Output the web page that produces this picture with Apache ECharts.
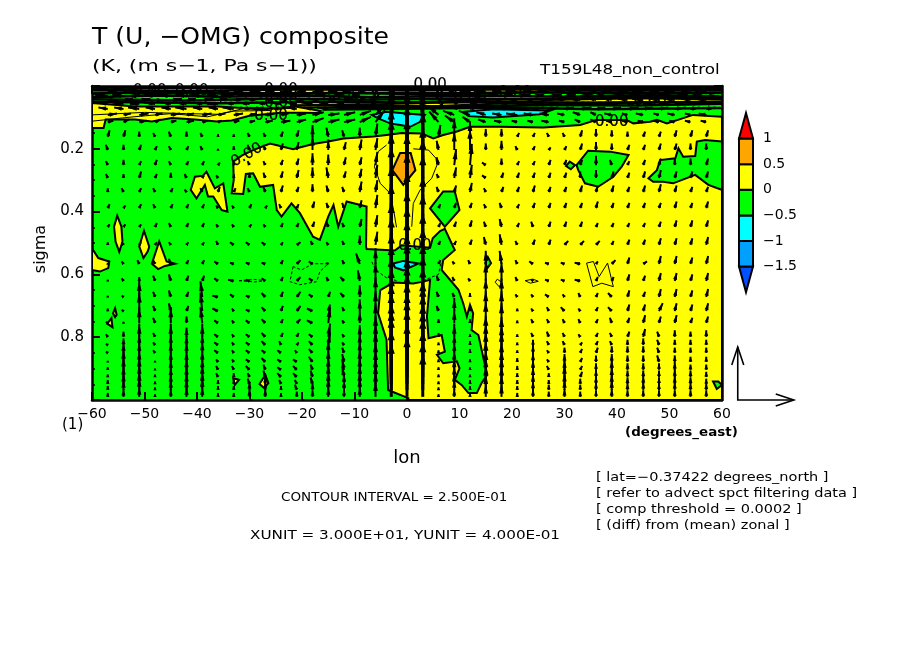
<!DOCTYPE html>
<html>
<head>
<meta charset="utf-8">
<style>html,body{margin:0;padding:0;background:#fff}#main{width:904px;height:654px}</style>
<script src="https://cdn.jsdelivr.net/npm/echarts@6/dist/echarts.min.js"></script>
</head>
<body>
<div id="main"></div>
<script>
// colour bands, low to high
var bandLevels = [-2, -1.5, -1, -0.5, 0, 0.5, 1, 1.5];
var bandColors = ['#0050ff', '#00a0ff', '#00ffff', '#00ff00', '#ffff00', '#ffa500', '#ff0000'];

// zero contour: [lon, sigma]
var yellowMain = [[-33.1,.241],[-31.5,.222],[-29.3,.204],[-26.1,.183],[-21.7,.201],[-17.9,.185],[-15,.177],[-12.1,.167],[-6.4,.161],[-3.9,.156],[-1,.15],[2.8,.151],[5,.167],[6.9,.156],[9.5,.145],[12,.13],[17.7,.13],[26,.132],[33,.124],[36.1,.108],[41.8,.108],[43.1,.119],[46.3,.114],[47.6,.108],[49.5,.119],[54.5,.092],[60,.098],[60,1],[.25,1],[.25,.994],[-3.6,.968],[-3.9,.808],[-5.5,.724],[-5.1,.65],[-2.6,.626],[1.2,.629],[3.1,.623],[4.4,.617],[3.8,.734],[4.1,.803],[6.6,.793],[7.2,.846],[5.7,.856],[6.9,.883],[9.5,.877],[10,.899],[9.1,.936],[10.4,.952],[11.7,.978],[13.3,.978],[14.2,.946],[15.3,.92],[14.5,.862],[13.6,.793],[12.3,.777],[12.6,.724],[12,.697],[11.4,.734],[10.7,.692],[9.8,.649],[6.6,.586],[6.9,.554],[9.1,.522],[8.8,.512],[7.2,.455],[6.3,.462],[4.9,.485],[4.4,.515],[-1,.507],[-2.3,.524],[-7.7,.519],[-7.8,.512],[-7.7,.384],[-11.5,.368],[-13.1,.448],[-14,.379],[-15,.416],[-16.6,.49],[-17.9,.48],[-20.4,.405],[-22,.374],[-23.9,.416],[-24.8,.395],[-25.5,.315],[-28,.321],[-29.3,.278],[-30.7,.28],[-31.2,.344],[-33.4,.342],[-33,.299]];
var yellowBandLeft = [[-60,.054],[-51.8,.065],[-42.3,.065],[-36,.065],[-31.5,.07],[-27.7,.075],[-21.3,.065],[-18,.075],[-16.5,.08],[-17,.086],[-20,.085],[-24,.085],[-27,.09],[-30,.095],[-33.4,.11],[-36.2,.113],[-40.4,.107],[-44.8,.102],[-48.6,.113],[-51.8,.107],[-57.4,.107],[-57.8,.134],[-60,.134]];
var yellowBandTop = [[-52,.006],[60,.006],[60,.02],[30,.02],[0,.022],[-30,.022],[-52,.024]];
var yellowBandMid = [[-22,.05],[-10,.05],[0,.052],[20,.042],[40,.038],[60,.036],[60,.05],[40,.052],[20,.054],[0,.068],[-10,.066],[-22,.07]];
var yellowBlobA = [[-41.2,.331],[-40.4,.289],[-38.9,.286],[-38.2,.273],[-36.6,.326],[-35,.31],[-34.2,.4],[-35.3,.395],[-36.9,.352],[-37.9,.352],[-38.5,.315],[-40.1,.358]];
var yellowBlobB = [[-55.2,.413],[-54.4,.448],[-54.2,.496],[-54.8,.528],[-55.5,.496],[-55.8,.448]];
var yellowBlobC = [[-50.1,.461],[-49.1,.512],[-49.4,.527],[-50.2,.548],[-51,.511]];
var yellowBlobD = [[-47.2,.495],[-45.8,.559],[-44.2,.566],[-46.1,.573],[-47.4,.583],[-48.6,.566]];
var yellowBlobE = [[-60,.517],[-58.8,.548],[-56.7,.559],[-56.9,.58],[-58.5,.591],[-60,.586]];
var yellowBlobF = [[-55.6,.708],[-55.3,.729],[-55.6,.736],[-56,.724]];
var yellowBlobG = [[-56.3,.739],[-56.1,.768],[-57.1,.757]];
var yellowBlobH = [[-33.1,.931],[-32,.936],[-32.8,.952]];
var yellowBlobI = [[-27,.92],[-26.4,.946],[-27.2,.962],[-28.1,.949]];
var yellowLoops = [yellowBandTop, yellowBandMid, yellowBandLeft, yellowMain, yellowBlobA, yellowBlobB, yellowBlobC, yellowBlobD, yellowBlobE, yellowBlobF, yellowBlobG, yellowBlobH, yellowBlobI];

var greenBlobA = [[4.4,.39],[6.9,.336],[9.1,.336],[10,.395],[7.2,.448]];
var greenBlobB = [[32.3,.252],[34.5,.206],[38.7,.209],[42.2,.22],[40.9,.257],[39.3,.289],[36.4,.321],[33.9,.31],[32.6,.267]];
var greenBlobC = [[31,.241],[32,.252],[31.2,.265],[30.3,.255]];
var greenBlobD = [[46,.294],[47.6,.268],[48.2,.236],[51.1,.23],[51.7,.198],[52.6,.225],[54.9,.223],[55.2,.177],[56.8,.172],[60,.177],[60,.331],[57.4,.315],[54.9,.283],[50.7,.31],[48.8,.305],[46.9,.305]];
var greenBlobE = [[14.9,.564],[15.4,.545],[16,.564],[15.3,.58]];
var greenBlobF = [[58.3,.941],[59.3,.941],[60,.952],[59,.965]];
var greenBlobG = [[-60,.01],[-52,.012],[-50,.02],[-60,.024]];
var greenLoops = [greenBlobA, greenBlobB, greenBlobC, greenBlobD, greenBlobE, greenBlobF, greenBlobG];

var cyanUpper = [[-6.7,.092],[-3.9,.082],[-.7,.087],[3.4,.092],[2.5,.114],[.6,.13],[-1.3,.124],[-3.2,.119],[-5.5,.103]];
var cyanStrip = [[11,.082],[16.4,.074],[26.6,.078],[28.5,.071],[25.3,.09],[16.4,.1],[11.7,.096]];
var cyanLower = [[-2.6,.565],[-.7,.557],[2.2,.565],[-.7,.587],[-2.3,.578]];
var cyanLoops = [cyanUpper, cyanStrip, cyanLower];

var orangeLoops = [[[-1.3,.213],[.7,.213],[1.6,.268],[-.7,.315],[-2.8,.268]]];

// thin contours, 0.25 in the yellow and -0.25 in the green
var thinSolid = [
    [[-3.9,.188],[-5.5,.209],[-6.2,.257],[-5.1,.31],[-3.2,.342],[-2.5,.4],[-2,.45]],
    [[1.2,.2],[4.1,.204],[5.5,.23],[5.7,.252],[4.7,.294],[2.5,.331],[1.2,.374],[.9,.448]],
    [[34.2,.564],[35.5,.559],[36.6,.607],[38.2,.564],[39.3,.639],[37.1,.628],[35.4,.639],[34.2,.564]],
    [[22.5,.62],[24,.615],[25,.622],[23.5,.628],[22.5,.62]],
    [[17.2,.615],[18,.625],[17.6,.64],[16.8,.625],[17.2,.615]],
    [[-60,.092],[-50,.084],[-42,.088],[-36,.09],[-30,.068],[-22,.072]],
    [[-60,.112],[-52,.098],[-45,.088],[-38,.098],[-33,.08],[-26,.078]]
];
var thinDashed = [
    [[-21.7,.575],[-22.3,.623],[-20.4,.633],[-17.2,.623],[-16.6,.591],[-15,.566],[-17.9,.566],[-20.1,.586],[-21.7,.575]],
    [[-32,.62],[-29,.624],[-27,.62],[-29,.616],[-32,.62]],
    [[-6.7,.56],[-6,.585],[-4,.61],[-2,.62]],
    [[3,.62],[6,.6],[6.5,.56]]
];
// the heavy stack of contours under the top of the frame
var topStack = [
    [[-60,.005],[-30,.007],[0,.005],[30,.007],[60,.005]],
    [[-60,.013],[-40,.016],[-20,.01],[0,.014],[20,.01],[40,.014],[60,.012]],
    [[-60,.024],[-45,.02],[-30,.026],[-12,.022],[6,.026],[24,.02],[42,.024],[60,.022]],
    [[-60,.036],[-48,.03],[-36,.034],[-21,.03],[-6,.036],[12,.03],[30,.034],[48,.03],[60,.034]],
    [[-60,.042],[-42,.046],[-24,.04],[-9,.044],[9,.04],[27,.044],[45,.038],[60,.042]],
    [[-60,.05],[-36,.055],[-18,.05],[0,.054],[18,.05],[36,.054],[60,.05]],
    [[-22,.062],[-8,.06],[8,.066],[26,.06],[44,.062],[60,.056]],
    [[-16,.075],[0,.072],[18,.068],[36,.074],[60,.07]]
];

// contour labels: lon, sigma, angle
var labelLons = [-25.9, -24, -24, 4.4, 39, 46.3, 20.6, 1.5, -30.5, -49, -41, -12, 12];
var labelSigmas = [.096, .054, .013, -.003, .115, .048, .022, .51, .22, .016, .016, .03, .035];
var labelAngles = [0, 0, 0, 0, 0, 0, 0, 0, 30, 0, 0, 0, 0];

// vectors: u in m/s, -omega in hundredths of Pa/s
var vectorLons = [-57,-54,-51,-48,-45,-42,-39,-36,-33,-30,-27,-24,-21,-18,-15,-12,-9,-6,-3,0,3,6,9,12,15,18,21,24,27,30,33,36,39,42,45,48,51,54,57];
var vectorSigmas = [.006,.019,.032,.045,.057,.073,.092,.115,.162,.204,.252,.293,.338,.389,.449,.506,.567,.621,.672,.717,.755,.799,.825,.85,.879,.904,.927,.949,.968,.99];
var wRows = [
    [0,0,0,0,1,0,0,0,1,0,0,0,0,1,0,0,1,3,8,9,7,2,0,0,0,0,0,0,0,0,0,1,1,0,0,0,1,0,0],
    [1,0,1,1,1,1,1,1,1,1,0,1,1,1,1,1,1,4,14,18,12,3,1,1,1,1,1,1,1,1,1,2,1,1,1,1,1,1,1],
    [1,1,0,1,1,1,1,1,1,1,1,1,1,1,1,1,1,5,18,24,16,4,1,1,2,1,1,1,1,1,2,3,2,1,1,1,1,1,0],
    [0,1,1,0,1,1,1,1,1,1,1,1,1,1,1,1,2,5,22,30,20,5,1,1,2,1,1,1,1,1,1,2,2,1,1,1,1,1,1],
    [1,1,0,1,1,1,1,0,1,1,1,1,1,1,1,1,2,6,26,34,24,6,2,1,1,1,1,1,1,1,1,1,1,1,1,1,1,1,1],
    [1,1,1,1,1,1,1,1,1,1,1,1,1,1,1,2,2,8,30,40,28,6,2,2,1,1,1,1,1,1,1,1,1,1,1,1,1,1,1],
    [1,1,1,1,1,1,1,1,1,1,1,1,1,2,1,2,3,8,34,46,32,7,3,3,2,1,1,1,1,1,2,2,1,1,1,1,1,1,1],
    [1,2,1,2,1,1,1,1,1,1,1,1,2,3,2,2,4,9,38,52,36,8,5,4,2,1,1,1,1,1,2,2,1,1,1,1,1,1,1],
    [5,5,4,3,4,4,3,2,2,3,3,4,5,9,7,5,7,10,42,56,40,9,14,12,6,6,3,3,3,3,5,6,5,4,4,4,5,5,5],
    [4,4,4,3,3,3,3,1,3,4,4,5,6,11,8,6,8,9,44,58,42,7,14,16,5,7,3,3,2,3,5,6,5,4,4,5,5,5,5],
    [3,4,3,4,3,3,3,2,2,3,3,4,5,9,8,6,6,10,42,55,40,6,12,16,2,5,3,3,4,4,4,7,4,3,4,5,5,5,5],
    [3,3,5,3,4,3,2,2,3,4,4,5,6,8,8,5,7,10,44,55,38,3,8,10,2,4,4,4,4,4,5,6,5,4,5,6,5,5,5],
    [3,3,3,3,3,2,3,4,3,3,4,5,4,6,5,4,8,9,44,55,40,4,5,7,3,4,4,5,4,4,5,5,5,4,5,6,5,4,4],
    [3,2,3,3,3,3,3,2,2,3,2,3,3,5,4,4,6,10,46,56,40,3,4,4,3,4,3,4,4,4,4,5,4,4,4,4,5,4,5],
    [2,2,2,3,3,3,3,2,2,2,2,3,3,4,4,3,6,9,46,56,38,3,4,5,4,6,3,4,4,4,4,3,3,3,3,4,5,5,5],
    [2,2,2,2,2,2,2,3,2,2,2,2,2,3,2,3,7,10,46,55,38,3,3,4,6,8,3,4,4,3,3,3,3,4,4,5,5,5,6],
    [1,2,3,3,4,3,3,2,1,1,1,3,3,2,1,3,8,12,46,55,38,3,2,3,10,10,3,2,1,1,1,2,3,5,2,6,6,5,6],
    [1,2,3,4,5,4,4,2,1,1,2,3,3,2,3,3,8,14,48,56,40,4,3,2,14,14,3,1,1,1,1,3,3,5,4,6,6,5,6],
    [1,1,12,4,5,4,12,1,2,1,3,4,4,2,4,3,9,15,48,58,40,4,3,3,14,14,2,2,2,2,3,3,3,5,4,6,6,5,6],
    [2,1,14,4,6,4,14,2,2,1,3,4,4,2,5,3,9,15,50,58,42,4,10,3,15,15,2,2,3,3,2,3,3,5,5,6,6,5,6],
    [1,1,12,4,12,5,12,2,2,2,3,3,3,2,12,2,9,15,50,60,42,3,10,3,16,15,2,3,3,3,3,3,4,4,6,5,6,4,5],
    [2,4,10,3,10,7,10,2,2,2,3,3,3,2,10,2,9,16,52,60,42,3,10,2,16,15,2,3,4,3,2,3,3,4,6,4,5,4,5],
    [1,5,8,2,8,7,8,2,2,2,3,3,2,3,9,2,9,16,52,60,44,2,8,3,16,15,2,4,3,3,2,3,3,4,5,4,4,4,4],
    [1,8,8,2,8,8,9,2,2,2,2,2,2,3,10,4,9,16,52,60,44,2,8,3,16,16,2,6,2,4,3,4,5,5,5,4,4,4,4],
    [1,10,9,1,8,8,9,2,2,2,3,2,2,4,10,6,10,15,52,60,44,2,9,2,16,15,3,7,2,6,3,5,6,5,5,5,5,4,4],
    [2,10,10,1,8,9,9,3,3,3,4,2,3,4,10,8,10,15,50,58,44,2,9,2,15,15,3,8,3,8,3,5,8,5,5,5,6,4,4],
    [2,9,10,2,8,9,10,3,3,3,5,3,3,5,10,8,10,15,50,58,44,2,9,2,15,15,3,8,3,10,4,6,8,5,5,5,6,5,4],
    [3,9,10,2,8,9,10,3,3,4,6,3,3,5,10,8,10,15,50,56,40,2,9,3,14,14,3,8,3,9,4,6,8,5,6,5,6,5,4],
    [3,8,10,2,8,9,10,3,3,6,6,3,4,5,10,8,10,14,45,50,36,2,8,3,12,12,3,7,4,8,4,6,8,5,6,5,6,5,5],
    [3,6,8,2,6,8,8,3,3,6,6,3,4,5,8,6,8,12,40,45,32,2,6,3,10,10,3,6,4,6,4,5,6,5,5,5,5,5,5]
];
var uRows = [
    [-6,-5,-6,-5,-6,-5,-6,-5,-6,-5,-6,-5,-6,-5,-6,-5,-4,-3,-1,0,1,3,4,5,6,5,6,5,6,5,6,5,6,5,6,5,6,5,6],
    [5,6,5,6,5,6,5,6,5,6,5,6,5,6,5,4,3,2,1,0,-1,-2,-3,-5,-6,-5,-6,-5,-6,-5,-6,-5,-6,-5,-6,-5,-6,-5,-6],
    [-7,-6,-7,-6,-7,-6,-7,-6,-7,-6,-7,-6,-7,-6,-7,-5,-4,-2,0,0,0,2,4,5,7,6,7,6,7,6,7,6,7,6,7,6,7,6,7],
    [6,5,6,5,6,5,6,5,6,5,6,5,6,5,6,5,3,2,1,0,-1,-2,-3,-5,-6,-5,-6,-5,-6,-5,-6,-5,-6,-5,-6,-5,-6,-5,-6],
    [-5,-6,-5,-6,-5,-6,-5,-6,-5,-6,-5,-6,-5,-6,-5,-4,-3,-2,0,0,0,2,3,4,5,6,5,6,5,6,5,6,5,6,5,6,5,6,5],
    [-5,-5,-6,-5,-5,-6,-5,-5,-6,-5,-5,-6,-5,-5,-6,-5,-4,-3,-1,0,1,3,4,5,6,5,5,6,5,5,6,5,5,6,5,5,6,5,5],
    [5,4,5,4,5,4,5,4,5,4,5,4,5,6,6,6,6,5,2,0,-2,-6,-6,-6,-5,-5,-6,-5,-5,-4,-4,-3,-4,-3,-4,-3,-4,-3,-4],
    [3,3,4,3,3,4,3,2,3,3,4,5,5,6,6,6,6,5,2,0,-2,-5,-5,-4,-4,-4,-3,-3,-4,-3,-3,-3,-3,-3,-3,-3,-3,-3,-3],
    [1,1,0,-1,-1,0,-1,0,0,-1,-1,1,1,0,-1,-1,0,1,0,0,0,1,0,0,0,0,1,1,-1,-1,1,0,0,0,1,1,1,1,1],
    [-1,0,1,1,-1,1,-1,0,0,-1,-1,1,1,0,0,1,1,1,0,0,0,-1,0,0,0,0,-1,1,1,1,1,0,0,1,1,1,1,0,0],
    [-1,0,1,1,-1,1,1,1,0,-1,-1,1,1,0,0,1,1,1,0,0,0,-1,1,1,-2,0,1,1,1,1,1,0,-1,1,1,1,0,0,1],
    [-1,0,1,1,0,-1,1,-1,0,0,-1,1,1,0,-1,1,1,1,0,0,0,-1,1,1,-2,1,1,1,1,1,0,0,1,1,1,1,1,1,1],
    [0,-1,1,-1,1,-1,-1,1,1,-1,-1,1,1,0,-1,-1,1,1,0,0,0,-1,1,1,-1,1,1,1,1,1,1,1,1,1,1,1,1,1,1],
    [1,1,1,-1,1,1,1,-1,-1,1,1,-1,1,1,-1,-1,1,1,0,0,0,1,1,1,-1,-1,1,1,1,1,1,1,1,1,1,1,1,1,1],
    [1,1,1,1,-1,1,1,-1,-1,1,-1,1,1,1,-1,-1,1,1,0,0,0,1,1,1,-1,-1,1,-1,1,1,1,1,1,1,1,1,1,1,1],
    [0,-1,1,1,-1,1,1,-1,-2,-2,-2,1,2,-1,-1,-1,0,1,0,0,0,1,1,1,-1,-1,-1,1,1,2,2,2,1,1,1,1,1,1,1],
    [0,-1,-1,-1,-1,1,1,-2,-2,-2,-2,1,2,-2,-1,-1,-2,0,0,0,0,1,-1,-1,0,-1,-1,-2,-2,-2,-3,1,2,1,2,1,1,1,1],
    [0,-1,0,-1,-1,1,1,-2,-3,-2,-2,1,2,-2,-1,-2,-1,0,0,0,0,-1,-1,-1,0,0,-1,-1,-2,-2,-3,1,1,1,1,1,1,1,1],
    [0,-1,0,-1,-1,1,-1,-3,-2,-2,-2,1,2,-2,1,-2,0,0,0,0,0,-1,-1,0,0,0,-1,-1,-2,-1,-1,1,-2,1,1,1,1,1,1],
    [0,-1,0,-1,-1,1,-1,-3,-1,-2,-2,1,2,-3,1,-1,0,0,0,0,0,-1,0,0,0,0,0,-1,-1,-2,-1,1,-2,1,1,2,1,1,1],
    [-1,0,0,-1,0,0,-1,-2,-1,-2,-2,1,2,-3,1,-1,0,0,0,0,0,0,0,0,0,0,0,-1,-1,-1,-1,1,-1,1,1,1,1,1,1],
    [-1,0,0,-1,0,0,0,-2,-1,-2,-2,1,1,-2,1,-1,0,0,0,0,0,0,0,0,0,0,0,-1,-1,-1,-1,1,-1,1,1,-1,0,0,0],
    [-1,0,0,-1,0,0,0,-2,-1,-2,-2,-1,1,-2,1,-1,0,0,0,0,0,0,0,0,0,0,0,0,-1,-1,1,1,-1,0,0,-1,0,0,0],
    [-1,0,0,-1,0,0,0,-2,-1,-2,-2,-2,-1,-2,0,-1,0,0,0,0,0,0,0,0,0,0,0,0,-1,0,1,1,0,0,0,-1,0,0,0],
    [0,0,0,0,0,0,0,-1,-1,-2,-2,-2,-2,-2,0,-1,0,0,0,0,0,0,0,0,0,0,0,0,-1,0,1,0,0,0,0,-1,0,0,0],
    [0,0,0,0,0,0,0,-1,-1,-2,-1,-2,-2,-1,0,-1,0,0,0,0,0,0,0,0,0,0,0,0,-1,0,1,0,0,0,0,0,0,0,0],
    [0,0,0,0,0,0,0,-1,0,-1,-1,-2,-2,-1,0,-1,0,0,0,0,0,0,0,0,0,0,0,0,0,0,1,0,0,0,0,0,0,0,0],
    [0,0,0,0,0,0,0,0,0,-1,0,-1,-1,-1,0,0,0,0,0,0,0,0,0,0,0,0,0,0,0,0,0,0,0,0,0,0,0,0,0],
    [0,0,0,0,0,0,0,0,0,0,0,0,-1,0,0,0,0,0,0,0,0,0,0,0,0,0,0,0,0,0,0,0,0,0,0,0,0,0,0],
    [0,0,0,0,0,0,0,0,0,0,0,0,0,0,0,0,0,0,0,0,0,0,0,0,0,0,0,0,0,0,0,0,0,0,0,0,0,0,0]
];

// reference arrows, XUNIT and YUNIT
var xUnit = 30;
var yUnit = 40;
var xUnitPx = 56;
var yUnitPx = 53;
var refLon = 63;
var refSigma = 1;

var textFont = '"DejaVu Sans"';
var chart = echarts.init(document.getElementById('main'));

function loopSeries(loops, color, z) {
    return {
        type: 'custom', xAxisIndex: 0, yAxisIndex: 0, clip: true, z: z, silent: true,
        data: loops.map(function (l, i) { return [l[0][0], l[0][1], i]; }),
        renderItem: function (params, api) {
            return {
                type: 'polygon',
                shape: {points: loops[params.dataIndex].map(function (p) { return api.coord(p); })},
                style: {fill: color, stroke: '#000', lineWidth: 2}
            };
        }
    };
}

function lineSeries(lines, width, dash, z) {
    return {
        type: 'custom', xAxisIndex: 0, yAxisIndex: 0, clip: true, z: z, silent: true,
        data: lines.map(function (l, i) { return [l[0][0], l[0][1], i]; }),
        renderItem: function (params, api) {
            return {
                type: 'polyline',
                shape: {points: lines[params.dataIndex].map(function (p) { return api.coord(p); })},
                style: {fill: 'none', stroke: '#000', lineWidth: width, lineDash: dash}
            };
        }
    };
}

var vectorData = [];
for (var r = 0; r < vectorSigmas.length; r++) {
    for (var c = 0; c < vectorLons.length; c++) {
        vectorData.push([vectorLons[c], vectorSigmas[r], uRows[r][c], wRows[r][c]]);
    }
}

function renderVector(params, api) {
    var tail = api.coord([api.value(0), api.value(1)]);
    var dx = api.value(2) / xUnit * xUnitPx;
    var dy = -api.value(3) / yUnit * yUnitPx;
    var tip = [tail[0] + dx, tail[1] + dy];
    var len = Math.sqrt(dx * dx + dy * dy) || 1;
    var ux = dx / len, uy = dy / len;
    var headLen = Math.min(10, 1 + len * 0.7);
    var half = Math.min(3.6, 1.6 + len * 0.05);
    var base = [tip[0] - ux * headLen, tip[1] - uy * headLen];
    return {
        type: 'group',
        children: [
            {type: 'line', shape: {x1: tail[0], y1: tail[1], x2: tip[0], y2: tip[1]}, style: {stroke: '#000', lineWidth: len > 25 ? 3 : 2}},
            {type: 'polygon', shape: {points: [tip, [base[0] - uy * half, base[1] + ux * half], [base[0] + uy * half, base[1] - ux * half]]}, style: {fill: '#000'}}
        ]
    };
}

function renderRefArrows(params, api) {
    var o = api.coord([refLon, refSigma]);
    var tx = o[0] + xUnitPx, ty = o[1] - yUnitPx;
    var s = {stroke: '#000', lineWidth: 1.6, fill: 'none'};
    return {
        type: 'group',
        children: [
            {type: 'polyline', shape: {points: [[tx, o[1]], [o[0], o[1]], [o[0], ty]]}, style: s},
            {type: 'polyline', shape: {points: [[tx - 18, o[1] - 6], [tx, o[1]], [tx - 18, o[1] + 6]]}, style: s},
            {type: 'polyline', shape: {points: [[o[0] - 6, ty + 18], [o[0], ty], [o[0] + 6, ty + 18]]}, style: s}
        ]
    };
}

function renderLabel(params, api) {
    var p = api.coord([api.value(0), api.value(1)]);
    return {
        type: 'text', x: p[0], y: p[1], rotation: labelAngles[params.dataIndex] * Math.PI / 180,
        style: {text: '0.00', fontFamily: textFont, fontSize: 15, fill: '#000', stroke: '#000', lineWidth: 0.2, align: 'center', verticalAlign: 'middle'}
    };
}

function renderBand(params, api) {
    var i = params.dataIndex;
    var a = api.coord([0, bandLevels[i]]);
    var b = api.coord([1, bandLevels[i + 1]]);
    var pts;
    if (i === 0) {
        pts = [[a[0], b[1]], [b[0], b[1]], [(a[0] + b[0]) / 2, a[1]]];
    } else if (i === bandColors.length - 1) {
        pts = [[a[0], a[1]], [b[0], a[1]], [(a[0] + b[0]) / 2, b[1]]];
    } else {
        pts = [[a[0], a[1]], [b[0], a[1]], [b[0], b[1]], [a[0], b[1]]];
    }
    return {type: 'polygon', shape: {points: pts}, style: {fill: bandColors[i], stroke: '#000', lineWidth: 2}};
}

function minusLabel(v) {
    return String(v).replace('-', '\u2212');
}

function plainText(str, left, top, size, stretch, weight) {
    return {
        type: 'text', left: left, top: top, scaleX: stretch || 1,
        style: {text: str, fontFamily: textFont, fontSize: size, fontWeight: weight || 'normal', fill: '#000'}
    };
}

var frameLine = {show: true, onZero: false, lineStyle: {color: '#000', width: 2.5}};
var option = {
    animation: false,
    backgroundColor: '#fff',
    grid: [
        {left: 92, top: 86, width: 630, height: 314, show: true, backgroundColor: '#00ff00', borderWidth: 0},
        {left: 739, top: 113, width: 14, height: 179.2}
    ],
    xAxis: [
        {
            type: 'value', gridIndex: 0, min: -60, max: 60, interval: 10, position: 'bottom',
            axisLine: frameLine, axisTick: {inside: true, length: 8, lineStyle: {color: '#000', width: 2}},
            splitLine: {show: false}, name: 'lon', nameLocation: 'middle', nameGap: 49,
            nameTextStyle: {fontFamily: textFont, fontSize: 18, color: '#000'},
            axisLabel: {margin: 7, fontFamily: textFont, fontSize: 14, color: '#000', formatter: minusLabel}
        },
        {
            type: 'value', gridIndex: 0, min: -60, max: 60, interval: 10, position: 'top',
            axisLine: frameLine, axisTick: {inside: true, length: 8, lineStyle: {color: '#000', width: 2}},
            minorTick: {show: true, splitNumber: 5, length: 3, lineStyle: {color: '#000'}},
            splitLine: {show: false}, axisLabel: {show: false}
        },
        {type: 'value', gridIndex: 1, min: 0, max: 1, show: false}
    ],
    yAxis: [
        {
            type: 'value', gridIndex: 0, min: 0, max: 1, interval: 0.2, inverse: true, position: 'left',
            axisLine: frameLine, axisTick: {inside: true, length: 8, lineStyle: {color: '#000', width: 2}},
            minorTick: {show: true, splitNumber: 4, length: 3, lineStyle: {color: '#000', width: 1.5}},
            splitLine: {show: false}, minorSplitLine: {show: false},
            name: 'sigma', nameLocation: 'middle', nameGap: 40,
            nameTextStyle: {fontFamily: textFont, fontSize: 16, color: '#000', padding: [0, 12, 0, 0]},
            axisLabel: {showMinLabel: false, showMaxLabel: false, margin: 8, fontFamily: textFont, fontSize: 15, color: '#000'}
        },
        {
            type: 'value', gridIndex: 0, min: 0, max: 1, interval: 0.2, inverse: true, position: 'right',
            axisLine: frameLine, axisTick: {inside: true, length: 8, lineStyle: {color: '#000', width: 2}},
            minorTick: {show: true, splitNumber: 4, length: 3, lineStyle: {color: '#000', width: 1.5}},
            splitLine: {show: false}, axisLabel: {show: false}
        },
        {
            type: 'value', gridIndex: 1, min: -2, max: 1.5, interval: 0.5, position: 'right',
            axisLine: {show: false}, axisTick: {show: false}, splitLine: {show: false},
            axisLabel: {showMinLabel: false, showMaxLabel: false, margin: 10, fontFamily: textFont, fontSize: 14, color: '#000', formatter: minusLabel}
        }
    ],
    series: [
        loopSeries(yellowLoops, bandColors[4], 2),
        loopSeries(greenLoops, bandColors[3], 3),
        loopSeries(cyanLoops, bandColors[2], 3),
        loopSeries(orangeLoops, bandColors[5], 3),
        lineSeries(thinSolid, 1, null, 4),
        lineSeries(thinDashed, 1, [3, 2], 4),
        lineSeries(topStack, 2.6, null, 4),
        {type: 'custom', xAxisIndex: 0, yAxisIndex: 0, clip: true, z: 5, silent: true, data: vectorData, renderItem: renderVector},
        {
            type: 'custom', xAxisIndex: 0, yAxisIndex: 0, clip: false, z: 6, silent: true,
            data: labelLons.map(function (x, i) { return [x, labelSigmas[i]]; }), renderItem: renderLabel
        },
        {type: 'custom', xAxisIndex: 0, yAxisIndex: 0, clip: false, z: 6, silent: true, data: [[refLon, refSigma]], renderItem: renderRefArrows},
        {
            type: 'custom', xAxisIndex: 2, yAxisIndex: 2, clip: false, z: 3, silent: true,
            data: bandColors.map(function (c, i) { return [0, bandLevels[i]]; }), renderItem: renderBand
        }
    ],
    graphic: [
        plainText('T (U, \u2212OMG) composite', 92, 27, 23, 1.09),
        plainText('(K, (m s\u22121, Pa s\u22121))', 92, 59, 16, 1.37),
        plainText('T159L48_non_control', 540, 63, 14, 1.2),
        plainText('(1)', 62, 418, 15),
        plainText('(degrees_east)', 625, 427, 12, 1.12, 'bold'),
        plainText('CONTOUR INTERVAL = 2.500E-01', 281, 491, 12.5, 1.08),
        plainText('XUNIT = 3.000E+01, YUNIT = 4.000E-01', 250, 529, 13, 1.17),
        plainText('[ lat=\u22120.37422 degrees_north ]', 596, 471, 12.5, 1.16),
        plainText('[ refer to advect spct filtering data ]', 596, 487, 12.5, 1.16),
        plainText('[ comp threshold = 0.0002 ]', 596, 503, 12.5, 1.16),
        plainText('[ (diff) from (mean) zonal ]', 596, 519, 12.5, 1.16)
    ]
};
chart.setOption(option);
</script>
</body>
</html>
